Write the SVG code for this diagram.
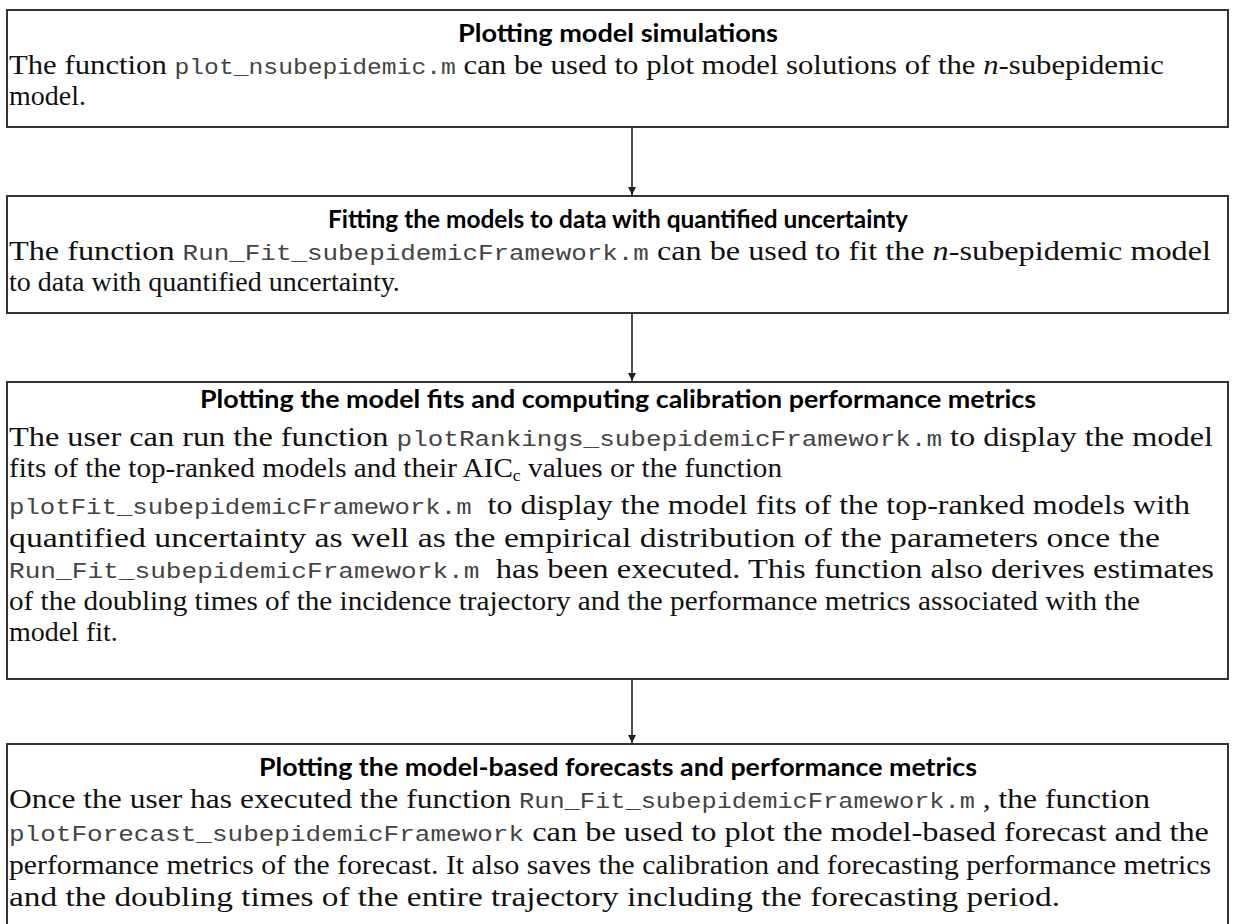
<svg xmlns="http://www.w3.org/2000/svg" width="1234" height="924" viewBox="0 0 1234 924">
<defs>
<style>
.box{fill:#fff;stroke:#333;stroke-width:2}
.title{font-family:Lato,"Liberation Sans",sans-serif;font-weight:700;font-size:25px;fill:#000;text-anchor:middle}
.body{font-family:"Liberation Serif","Times New Roman",serif;font-size:28px;fill:#111}
.code{font-family:"Liberation Mono","Courier New",monospace;font-size:22.5px;fill:#444}
.conn{stroke:#222;stroke-width:1.6;fill:none}
</style>
<marker id="ah" markerWidth="8" markerHeight="8" refX="8" refY="4" orient="auto" markerUnits="userSpaceOnUse">
<path d="M0,0 L8,4 L0,8 z" fill="#222"/>
</marker>
</defs>
<rect width="1234" height="924" fill="#fff"/>
<g id="connectors">
<line class="conn" x1="632" y1="128" x2="632" y2="195" marker-end="url(#ah)"/>
<line class="conn" x1="632" y1="313" x2="632" y2="381" marker-end="url(#ah)"/>
<line class="conn" x1="632" y1="679" x2="632" y2="743" marker-end="url(#ah)"/>
</g>
<g id="node1">
<rect class="box" x="7" y="10" width="1221" height="117"/>
<text class="title" x="618" y="42" textLength="320" lengthAdjust="spacingAndGlyphs">Plotting model simulations</text>
<text class="body" x="9" y="74" textLength="1155" lengthAdjust="spacingAndGlyphs" xml:space="preserve">The function <tspan class="code">plot_nsubepidemic.m</tspan> can be used to plot model solutions of the <tspan font-style="italic">n</tspan>-subepidemic</text>
<text class="body" x="9" y="105">model.</text>
</g>
<g id="node2">
<rect class="box" x="7" y="196" width="1221" height="117"/>
<text class="title" x="618" y="228" textLength="580" lengthAdjust="spacingAndGlyphs">Fitting the models to data with quantified uncertainty</text>
<text class="body" x="9" y="260" textLength="1202" lengthAdjust="spacingAndGlyphs" xml:space="preserve">The function <tspan class="code">Run_Fit_subepidemicFramework.m</tspan> can be used to fit the <tspan font-style="italic">n</tspan>-subepidemic model</text>
<text class="body" x="9" y="291">to data with quantified uncertainty.</text>
</g>
<g id="node3">
<rect class="box" x="7" y="382" width="1221" height="297"/>
<text class="title" x="618" y="408" textLength="836" lengthAdjust="spacingAndGlyphs">Plotting the model fits and computing calibration performance metrics</text>
<text class="body" x="9" y="446" textLength="1204" lengthAdjust="spacingAndGlyphs" xml:space="preserve">The user can run the function <tspan class="code">plotRankings_subepidemicFramework.m</tspan> to display the model</text>
<text class="body" x="9" y="477" textLength="773" lengthAdjust="spacingAndGlyphs" xml:space="preserve">fits of the top-ranked models and their AIC<tspan font-size="17" dy="4">c</tspan><tspan dy="-4"> values or the function</tspan></text>
<text class="body" x="9" y="514" textLength="1181" lengthAdjust="spacingAndGlyphs" xml:space="preserve"><tspan class="code">plotFit_subepidemicFramework.m</tspan>  to display the model fits of the top-ranked models with</text>
<text class="body" x="9" y="547" textLength="1151" lengthAdjust="spacingAndGlyphs">quantified uncertainty as well as the empirical distribution of the parameters once the</text>
<text class="body" x="9" y="578" textLength="1205" lengthAdjust="spacingAndGlyphs" xml:space="preserve"><tspan class="code">Run_Fit_subepidemicFramework.m</tspan>  has been executed. This function also derives estimates</text>
<text class="body" x="9" y="610" textLength="1131" lengthAdjust="spacingAndGlyphs">of the doubling times of the incidence trajectory and the performance metrics associated with the</text>
<text class="body" x="9" y="641">model fit.</text>
</g>
<g id="node4">
<rect class="box" x="7" y="744" width="1221" height="200"/>
<text class="title" x="618" y="776" textLength="718" lengthAdjust="spacingAndGlyphs">Plotting the model-based forecasts and performance metrics</text>
<text class="body" x="9" y="808" textLength="1141" lengthAdjust="spacingAndGlyphs" xml:space="preserve">Once the user has executed the function <tspan class="code">Run_Fit_subepidemicFramework.m</tspan> , the function</text>
<text class="body" x="9" y="841" textLength="1200" lengthAdjust="spacingAndGlyphs" xml:space="preserve"><tspan class="code">plotForecast_subepidemicFramework</tspan> can be used to plot the model-based forecast and the</text>
<text class="body" x="9" y="874" textLength="1202" lengthAdjust="spacingAndGlyphs">performance metrics of the forecast. It also saves the calibration and forecasting performance metrics</text>
<text class="body" x="9" y="906" textLength="1051" lengthAdjust="spacingAndGlyphs">and the doubling times of the entire trajectory including the forecasting period.</text>
</g>
</svg>
